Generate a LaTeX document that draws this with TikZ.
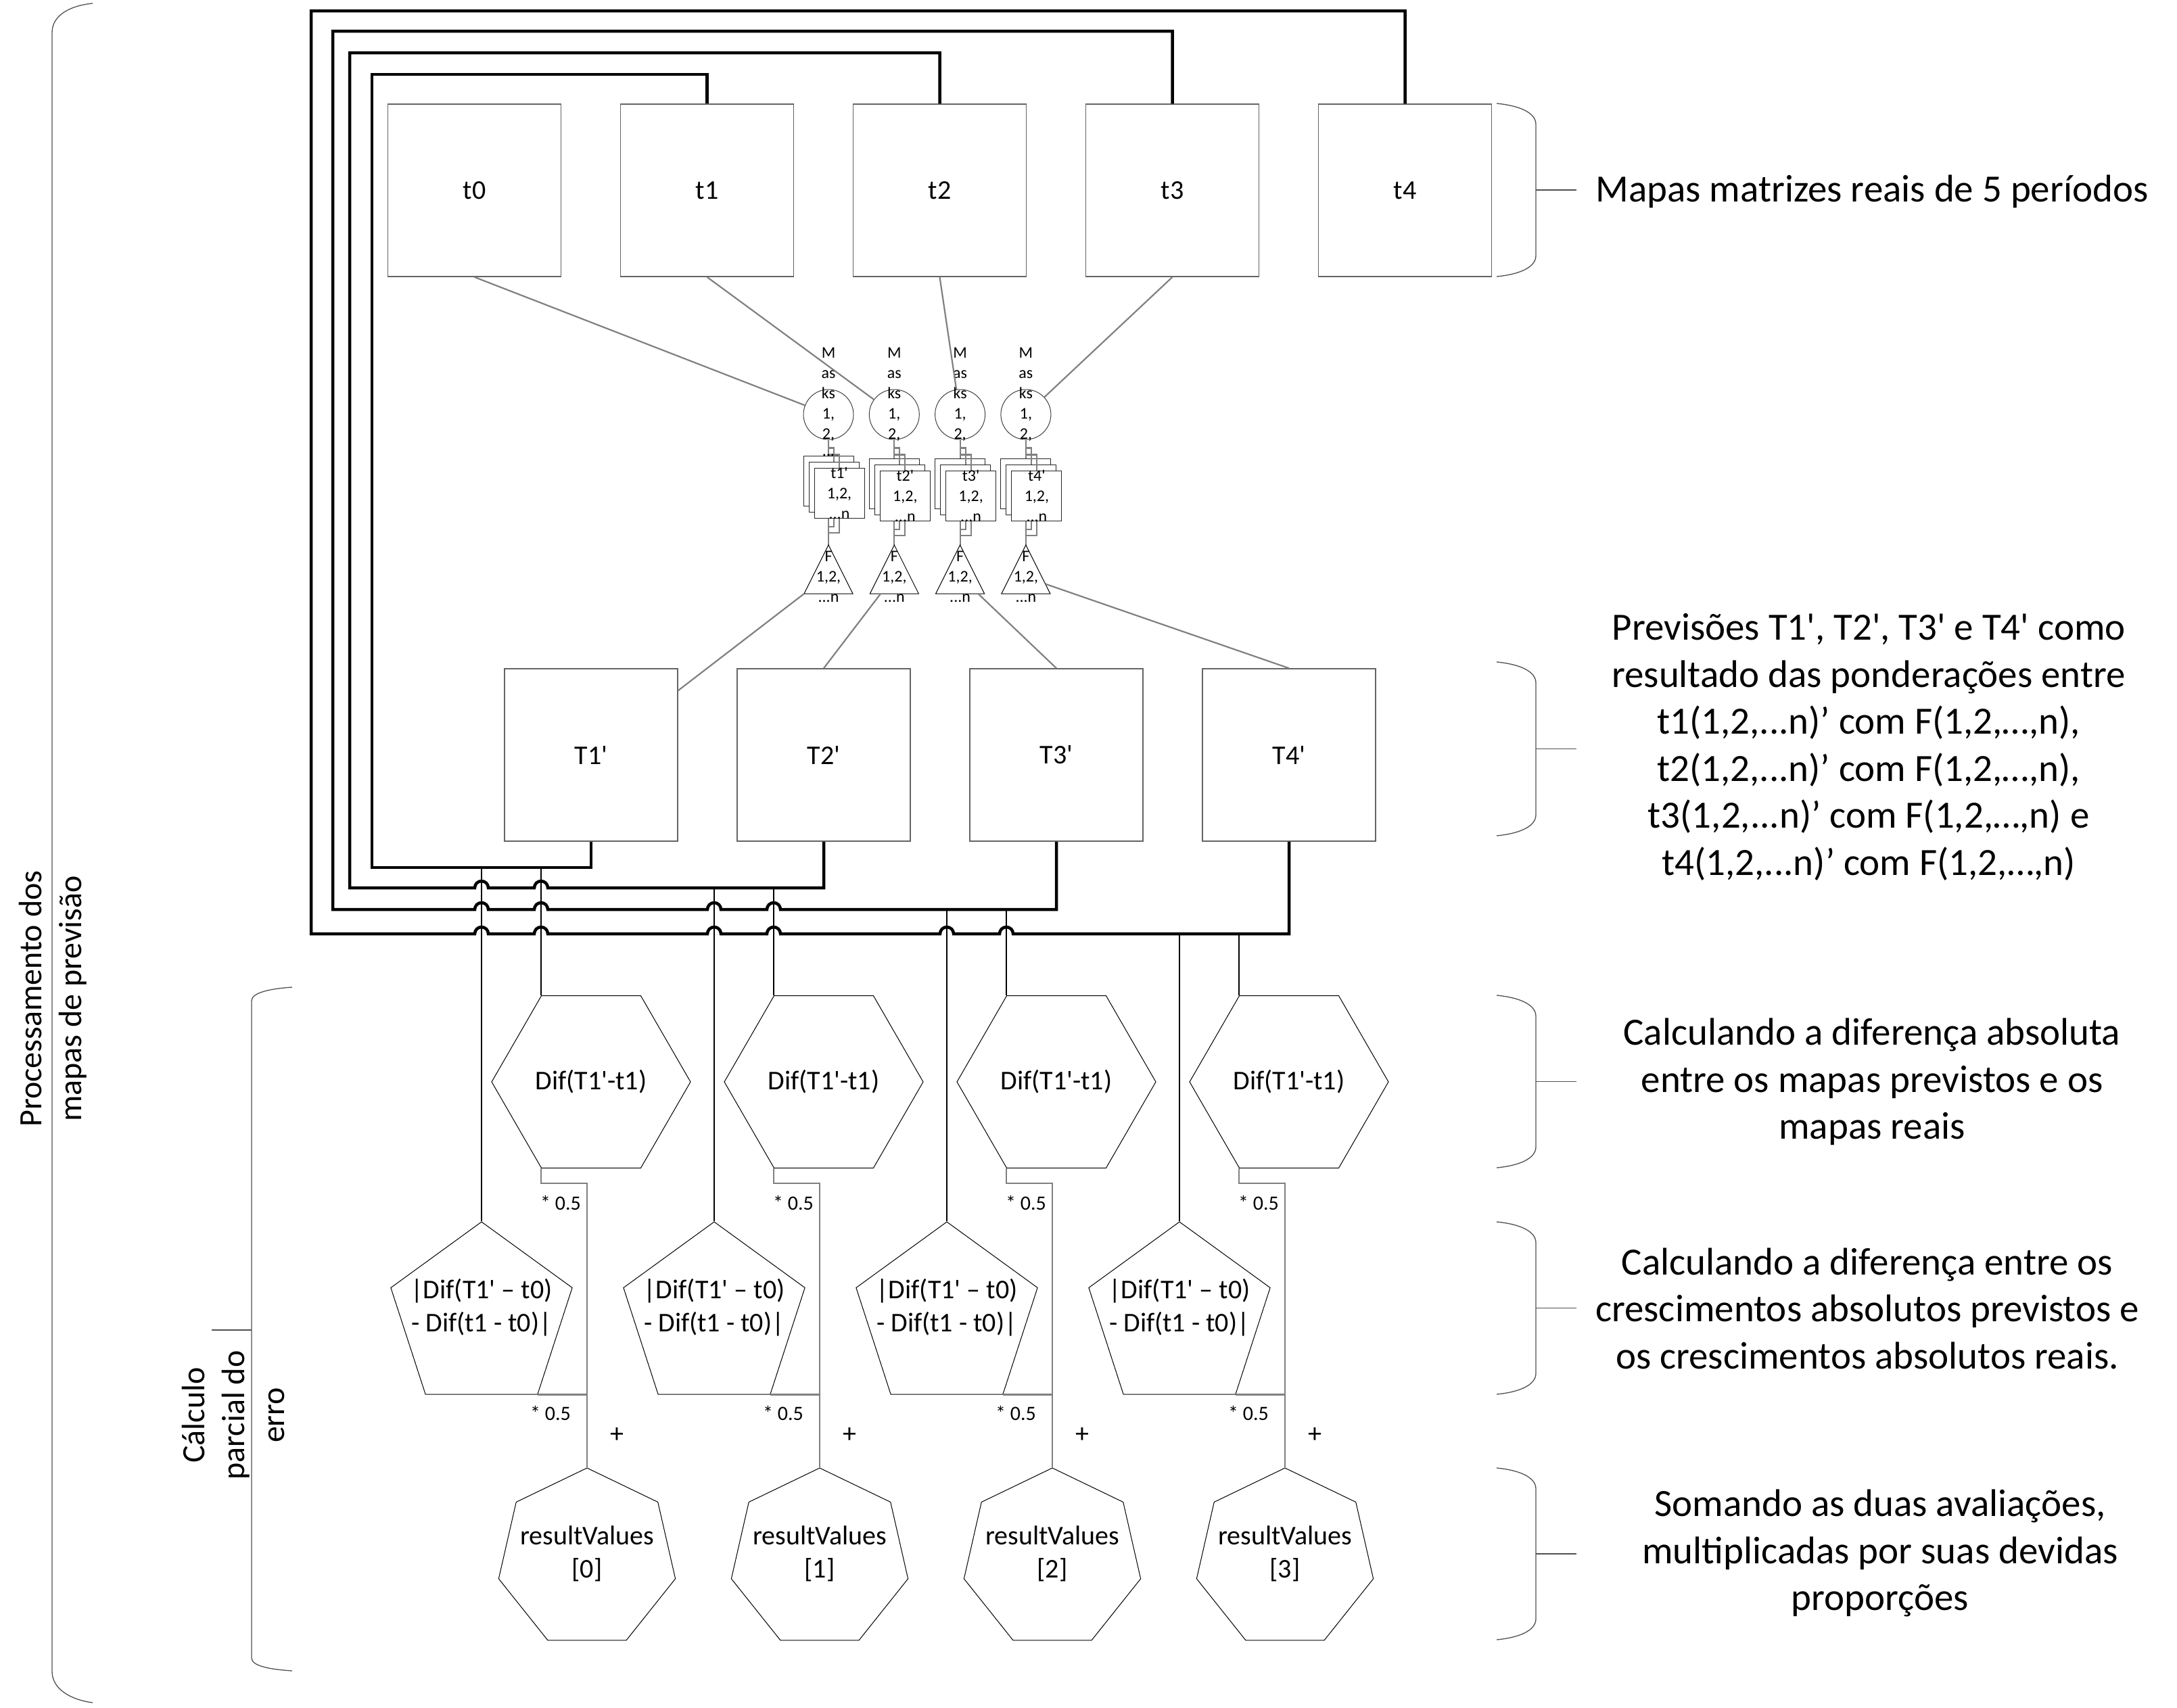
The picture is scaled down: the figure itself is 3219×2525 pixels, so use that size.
\documentclass[tikz,border=0pt]{standalone}
\usepackage{fontspec}
\setmainfont{Carlito}
\usetikzlibrary{shapes.geometric,calc}
\definecolor{boxgray}{RGB}{100,100,100}
\definecolor{conngray}{RGB}{128,128,128}
\definecolor{bracegray}{RGB}{80,80,80}
\newcommand\sq{\textquotesingle}
\newcommand\myRBrace[2]{%
  \draw[brace] (2213,#1) .. controls (2245,#1+3) and (2271,#1+13) .. (2271,#1+31)
     -- (2271,#2-31) .. controls (2271,#2-13) and (2245,#2-3) .. (2213,#2);
  \draw[brace] (2271,{(#1+#2)/2}) -- (2331,{(#1+#2)/2});}
\begin{document}
\begin{tikzpicture}[x=1pt,y=-1pt,
  box/.style={draw=boxgray,line width=1.5pt,fill=white,minimum width=256pt,minimum height=255pt,inner sep=0pt,font=\fontsize{40}{48.8}\selectfont},
  bus/.style={line width=4.5pt,line join=miter},
  thinl/.style={line width=1.8pt},
  gline/.style={draw=conngray,line width=2.2pt},
  shp/.style={draw=black,line width=1pt,inner sep=0pt},
  mcirc/.style={circle,draw=black!75,line width=1pt,minimum size=74pt,inner sep=0pt},
  sqbox/.style={draw=black!85,fill=white,line width=1pt,minimum size=74pt,inner sep=0pt},
  brace/.style={draw=bracegray,line width=1.3pt},
  fbig/.style={font=\fontsize{57}{69.5}\selectfont,align=center},
  fside/.style={font=\fontsize{48}{58.6}\selectfont,align=center},
  fmid/.style={font=\fontsize{40}{48.8}\selectfont,align=center},
  flab/.style={font=\fontsize{30}{36.6}\selectfont,inner sep=0pt},
  fsmall/.style={font=\fontsize{24}{30}\selectfont,align=center,inner sep=0pt}
]
\useasboundingbox (0,0) rectangle (3219,2525);

% ---------- boxes ----------
\foreach \i in {0,...,4} { \node[box] (t\i) at ({701.5+344*\i},281.5) {t\i}; }
\foreach \i in {1,...,4} { \node[box] (T\i) at ({874+344*(\i-1)},1116.5) {T\i\sq}; }

% ---------- buses ----------
\coordinate (bus0) at (0,1283);
\coordinate (bus1) at (0,1313);
\coordinate (bus2) at (0,1345);
\coordinate (bus3) at (0,1381);
\draw[bus] (t1.north) |- (550,110) -- (550,1283) -| (T1.south);
\draw[bus] (t2.north) |- (517,78) -- (517,1313)
  -- (702,1313) arc[start angle=180,end angle=0,radius=10pt]
  -- (790,1313) arc[start angle=180,end angle=0,radius=10pt]
  -| (T2.south);
\draw[bus] (t3.north) |- (492,46) -- (492,1345)
  -- (702,1345) arc[start angle=180,end angle=0,radius=10pt]
  -- (790,1345) arc[start angle=180,end angle=0,radius=10pt]
  -- (1046,1345) arc[start angle=180,end angle=0,radius=10pt]
  -- (1134,1345) arc[start angle=180,end angle=0,radius=10pt]
  -| (T3.south);
\draw[bus] (t4.north) |- (460,16) -- (460,1381)
  -- (702,1381) arc[start angle=180,end angle=0,radius=10pt]
  -- (790,1381) arc[start angle=180,end angle=0,radius=10pt]
  -- (1046,1381) arc[start angle=180,end angle=0,radius=10pt]
  -- (1134,1381) arc[start angle=180,end angle=0,radius=10pt]
  -- (1390,1381) arc[start angle=180,end angle=0,radius=10pt]
  -- (1478,1381) arc[start angle=180,end angle=0,radius=10pt]
  -| (T4.south);

% ---------- middle section ----------
\foreach \i [evaluate=\i as \cx using {1225+97.3*(\i-1)},
             evaluate=\i as \yb using {ifthenelse(\i==1,674,678)}] in {1,...,4} {
  \node[mcirc] (c\i) at (\cx,613) {};
  \node[fsmall] (ct\i) at (\cx,583) {M\\as\\ks\\1,\\2,};
  \coordinate (tA\i) at (\cx,806);
  \coordinate (tL\i) at (\cx-36,878);
  \coordinate (tR\i) at (\cx+36,878);
  \coordinate (bS\i) at (\cx,\yb+74);
  \coordinate (mS\i) at (\cx+8,\yb+83);
  \coordinate (fS\i) at (\cx+16,\yb+92);
  \draw[gline] (bS\i) -- (tA\i);
  \draw[gline] (mS\i) -- ++(0,22) -| (tA\i);
  \draw[gline] (fS\i) -- ++(0,22) -| (tA\i);
  \node[sqbox] (b\i) at (\cx,\yb+37) {};
  \node[sqbox] (m\i) at (\cx+8,\yb+46) {};
  \node[sqbox] (f\i) at (\cx+16,\yb+55) {};
  \draw[gline] (c\i.south) -- (b\i.north);
  \draw[gline] (c\i.south) -- ++(0,12) -| (m\i.north);
  \draw[gline] (c\i.south) -- ++(0,22) -| (f\i.north);
  \node[fsmall] (ftx\i) at (f\i) {t\i\sq\\1,2,\\...n};
  \draw[shp] (tA\i) -- (tR\i) -- (tL\i) -- cycle;
  \node[fsmall] (ft\i) at (\cx,853) {F\\1,2,\\...n};
}
\node[fsmall] (dots1) at (1225,673) {...};

\draw[gline] (t0.south) -- (c1);
\draw[gline] (t1.south) -- (c2);
\draw[gline] (t2.south) -- (c3);
\draw[gline] (t3.south) -- (c4);

\draw[gline] (tL1) -- ($(T1.north east)+(0,33)$);
\draw[gline] ($(tL2)!0.22!(tR2)$) -- (T2.north);
\draw[gline] ($(tL3)!0.87!(tR3)$) -- (T3.north);
\draw[gline] ($(tA4)!0.8!(tR4)$) -- (T4.north);

% ---------- lower section ----------
\foreach \k in {0,...,3} {
  \node[shp,regular polygon,regular polygon sides=6,minimum size=294pt,fmid] (H\k) at ({874+344*\k},1600) {Dif(T1\sq-t1)};
  \node[shp,regular polygon,regular polygon sides=5,minimum size=282pt] (P\k) at ({712+344*\k},1948) {};
  \node[fmid] (Pt\k) at ({712+344*\k},1934) {|Dif(T1\sq{} – t0)\\- Dif(t1 - t0)|};
  \node[shp,regular polygon,regular polygon sides=7,minimum size=268pt] (S\k) at ({868+344*\k},2305) {};
  \node[fmid] (St\k) at ({868+344*\k},2298) {resultValues\\{[\k]}};
  \draw[thinl] (P\k.north |- bus\k) -- (P\k.north);
  \draw[thinl] (H\k.120 |- bus\k) -- (H\k.120);
  \draw[gline] (H\k.240) -- ++(0,22) -| (S\k.north);
  \draw[gline] (P\k.306) -- (P\k.306 -| S\k.north);
  \node[flab] (ma\k) at ({829+344*\k},1779) {* 0.5};
  \node[flab] (mb\k) at ({814+344*\k},2090) {* 0.5};
  \node[fmid] (pl\k) at ({912+344*\k},2122) {+};
}

% ---------- right braces and texts ----------
\myRBrace{153}{409}
\myRBrace{979}{1236}
\myRBrace{1472}{1727}
\myRBrace{1807}{2062}
\myRBrace{2171}{2425}
\node[fbig] (r1) at (2768,283) {Mapas matrizes reais de 5 períodos};
\node[fbig] (r2) at (2763,1105) {Previsões T1\sq, T2\sq, T3\sq{} e T4\sq{} como\\resultado das ponderações entre\\t1(1,2,...n)’ com F(1,2,…,n),\\t2(1,2,...n)’ com F(1,2,…,n),\\t3(1,2,...n)’ com F(1,2,…,n) e\\t4(1,2,...n)’ com F(1,2,…,n)};
\node[fbig] (r3) at (2768,1600) {Calculando a diferença absoluta\\entre os mapas previstos e os\\mapas reais};
\node[fbig] (r4) at (2761,1935) {Calculando a diferença entre os\\crescimentos absolutos previstos e\\os crescimentos absolutos reais.};
\node[fbig] (r5) at (2780,2297) {Somando as duas avaliações,\\multiplicadas por suas devidas\\proporções};

% ---------- left braces and texts ----------
\draw[brace] (137,5) .. controls (105,8) and (77,22) .. (77,48) -- (77,2472)
   .. controls (77,2498) and (105,2514) .. (137,2518);
\draw[brace] (432,1460) .. controls (400,1462) and (372,1468) .. (372,1480) -- (372,2452)
   .. controls (372,2464) and (400,2469) .. (432,2471);
\draw[brace] (372,1967) -- (313,1967);
\node[fside,rotate=90] (l1) at (78,1477) {Processamento dos\\mapas de previsão};
\node[fside,rotate=90] (l2) at (345,2093) {Cálculo\\parcial do\\erro};
\end{tikzpicture}
\end{document}
